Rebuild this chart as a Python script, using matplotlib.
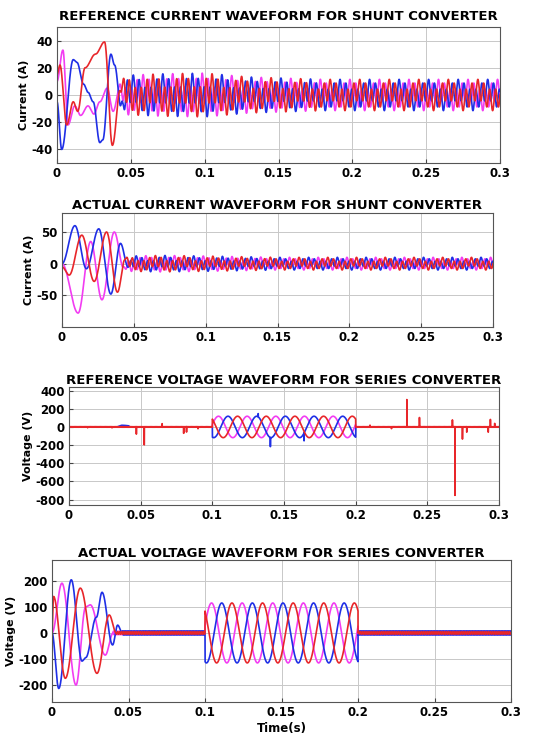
import numpy as np
import matplotlib
matplotlib.use("Agg")
import matplotlib.pyplot as plt

# ---------------- data ----------------
F_HZ = 50.0
T_END = 0.3
COL_RED = "#e8262a"
COL_BLUE = "#1f2fe6"
COL_MAG = "#f23cf2"

titles = ["REFERENCE CURRENT WAVEFORM FOR SHUNT CONVERTER",
          "ACTUAL CURRENT WAVEFORM FOR SHUNT CONVERTER",
          "REFERENCE VOLTAGE WAVEFORM FOR SERIES CONVERTER",
          "ACTUAL VOLTAGE WAVEFORM FOR SERIES CONVERTER"]
ylabels = ["Current (A)", "Current (A)", "Voltage (V)", "Voltage (V)"]
xticks = [0, 0.05, 0.1, 0.15, 0.2, 0.25, 0.3]
xtick_labels = ["0", "0.05", "0.1", "0.15", "0.2", "0.25", "0.3"]
yticks_list = [[-40, -20, 0, 20, 40], [-50, 0, 50],
               [-800, -600, -400, -200, 0, 200, 400], [-200, -100, 0, 100, 200]]
ylims = [(-50, 50), (-100, 80), (-860, 440), (-265, 280)]

# Panel 1: reference shunt current, start-up extrema (time s, value A)
p1_red_t = [0, 0.002, 0.0066, 0.011, 0.014, 0.019, 0.026, 0.0322, 0.0375, 0.043]
p1_red_v = [15, 22, -22, -5, -12, 20, 30, 39, -37, 5]
p1_mag_t = [0, 0.004, 0.0075, 0.012, 0.016, 0.021, 0.025, 0.029, 0.034, 0.038, 0.043]
p1_mag_v = [10, 33, -22, -8, -15, -8, -14, -5, 5, -12, 8]
p1_blue_t = [0, 0.0032, 0.011, 0.0135, 0.018, 0.021, 0.0245, 0.029, 0.031, 0.0365, 0.039, 0.0435]
p1_blue_v = [-5, -40, 26, 24, 8, 2, -5, -35, -33, 30, 22, -10]
p1_env_t = [0.044, 0.07, 0.1, 0.13, 0.18, 0.3]
p1_env_k = [1.25, 1.35, 1.4, 1.15, 1.0, 1.0]
p1_harm_order = [1, 5]
p1_harm_amp = [4.0, 7.5]

# Panel 2: actual shunt current
p2_blue_t = [0, 0.009, 0.017, 0.0256, 0.034, 0.0407, 0.046]
p2_blue_v = [0, 60, -8, 55, -48, 32, -5]
p2_red_t = [0, 0.005, 0.0138, 0.0224, 0.031, 0.0386, 0.044]
p2_red_v = [-5, -18, 45, -28, 50, -45, 8]
p2_mag_t = [0, 0.0112, 0.020, 0.0278, 0.0364, 0.043]
p2_mag_v = [0, -78, 35, -57, 50, -8]
p2_env_t = [0.045, 0.07, 0.1, 0.15, 0.3]
p2_env_k = [1.2, 1.3, 1.2, 1.0, 1.0]
p2_harm_order = [1, 5]
p2_harm_amp = [3.5, 6.5]

# Panel 3: reference series voltage
p3_sag_start = 0.1
p3_sag_end = 0.2
p3_amp = 118
p3_phase_deg = {"red": 43, "blue": 163, "mag": 283}
p3_red_spikes_t = [0.013, 0.03, 0.047, 0.0525, 0.065, 0.08, 0.082, 0.09, 0.21, 0.225,
                   0.2357, 0.2445, 0.2675, 0.2693, 0.2745, 0.2775, 0.2925, 0.294, 0.297]
p3_red_spikes_v = [-8, -10, -80, -200, 40, -70, -60, -20, 20, -15,
                   300, 100, 80, -750, -130, -60, -60, 80, 40]
p3_blue_spikes_t = [0.132, 0.1405, 0.164]
p3_blue_spikes_v = [35, -100, -85]
p3_blue_bump_t = [0.0, 0.033, 0.037, 0.041, 0.043]
p3_blue_bump_v = [0, 0, 18, 15, 0]
p3_ripple_amp = 4

# Panel 4: actual series voltage
p4_blue_t = [0, 0.0044, 0.0126, 0.0196, 0.022, 0.029, 0.0327, 0.0396, 0.0429, 0.046]
p4_blue_v = [0, -213, 204, -108, -95, 60, 156, -46, 30, 0]
p4_red_t = [0, 0.001, 0.0087, 0.0185, 0.0294, 0.0374, 0.042]
p4_red_v = [0, 140, -174, 172, -155, 69, 0]
p4_mag_t = [0, 0.0065, 0.0157, 0.022, 0.025, 0.0348, 0.04]
p4_mag_v = [0, 191, -200, 100, 108, -85, 0]
p4_amp = 115
p4_phase_deg = {"red": 43, "blue": 163, "mag": 283}
p4_ripple_amp = {"red": 5.0, "blue": 8.0, "mag": 6.5}
p4_ripple_hz = {"red": 730, "blue": 1010, "mag": 1270}

# axes boxes in pixels (left, top, right, bottom) of a 541x745 figure
boxes_px = [(57, 27, 500, 163), (62, 213, 493, 327), (69, 387, 499, 505), (52, 560, 511, 702)]
title_pads = [5, 3, 1, 1]

# ---------------- helpers ----------------
t = np.linspace(0, T_END, 30001)
W = 2 * np.pi * F_HZ


def extrema_curve(tt, tk, vk):
    tk = np.asarray(tk, float)
    vk = np.asarray(vk, float)
    idx = np.clip(np.searchsorted(tk, tt, side="right") - 1, 0, len(tk) - 2)
    t0, t1 = tk[idx], tk[idx + 1]
    v0, v1 = vk[idx], vk[idx + 1]
    s = np.clip((tt - t0) / (t1 - t0), 0, 1)
    out = v0 + (v1 - v0) * (1 - np.cos(np.pi * s)) / 2
    out[tt > tk[-1]] = vk[-1]
    return out


def harmonic_wave(tt, shift, orders, amps):
    th = W * tt + shift
    y = np.zeros_like(tt)
    for n, a in zip(orders, amps):
        y += a * np.sin(n * th)
    return y


def blend(tt, trans, steady, t_switch, width=0.004):
    w = np.clip((tt - t_switch) / width, 0, 1)
    return (1 - w) * trans + w * steady


def spikes(tt, ts, vs):
    y = np.zeros_like(tt)
    for a, b in zip(ts, vs):
        i = int(np.argmin(np.abs(tt - a)))
        y[i] = b
    return y


shifts = {"red": 0.0, "blue": -2 * np.pi / 3, "mag": 2 * np.pi / 3}
cols = {"red": COL_RED, "blue": COL_BLUE, "mag": COL_MAG}

# ---------------- build series ----------------
series = []
# panel 1
env1 = np.interp(t, p1_env_t, p1_env_k)
s1 = {}
for k, (tk, vk) in {"red": (p1_red_t, p1_red_v), "mag": (p1_mag_t, p1_mag_v),
                    "blue": (p1_blue_t, p1_blue_v)}.items():
    st = env1 * harmonic_wave(t, shifts[k], p1_harm_order, p1_harm_amp)
    s1[k] = blend(t, extrema_curve(t, tk, vk), st, tk[-1] - 0.001)
series.append(s1)
# panel 2
env2 = np.interp(t, p2_env_t, p2_env_k)
s2 = {}
for k, (tk, vk) in {"red": (p2_red_t, p2_red_v), "mag": (p2_mag_t, p2_mag_v),
                    "blue": (p2_blue_t, p2_blue_v)}.items():
    st = env2 * harmonic_wave(t, shifts[k], p2_harm_order, p2_harm_amp)
    s2[k] = blend(t, extrema_curve(t, tk, vk), st, tk[-1] - 0.001)
series.append(s2)
# panel 3
sag = (t >= p3_sag_start) & (t <= p3_sag_end)
s3 = {}
for k in ["mag", "blue", "red"]:
    y = np.where(sag, p3_amp * np.cos(W * (t - p3_sag_start) + np.deg2rad(p3_phase_deg[k])), 0.0)
    s3[k] = y
s3["red"] = s3["red"] + spikes(t, p3_red_spikes_t, p3_red_spikes_v) \
    + np.where(sag, 0, p3_ripple_amp * np.sin(2 * np.pi * 1150 * t))
s3["blue"] = s3["blue"] + spikes(t, p3_blue_spikes_t, p3_blue_spikes_v) \
    + extrema_curve(t, p3_blue_bump_t, p3_blue_bump_v)
series.append(s3)
# panel 4
sag4 = (t >= 0.1) & (t <= 0.2)
s4 = {}
for k, (tk, vk) in {"red": (p4_red_t, p4_red_v), "mag": (p4_mag_t, p4_mag_v),
                    "blue": (p4_blue_t, p4_blue_v)}.items():
    rip = p4_ripple_amp[k] * np.sin(2 * np.pi * p4_ripple_hz[k] * t + shifts[k])
    sine = p4_amp * np.cos(W * (t - 0.1) + np.deg2rad(p4_phase_deg[k]))
    y = np.where(sag4, sine, rip)
    y = np.where(t <= tk[-1], extrema_curve(t, tk, vk), y)
    s4[k] = y
series.append(s4)

# ---------------- draw ----------------
plt.rcParams["font.family"] = ["DejaVu Sans"]
plt.rcParams["font.weight"] = "bold"
FW, FH = 541, 745
fig = plt.figure(figsize=(FW / 100, FH / 100), dpi=100)

for i in range(4):
    l, tp, r, b = boxes_px[i]
    ax = fig.add_axes([l / FW, 1 - b / FH, (r - l) / FW, (b - tp) / FH])
    for k in ["mag", "blue", "red"]:
        ax.plot(t, series[i][k], color=cols[k], lw=1.2)
    ax.set_xlim(0, T_END)
    ax.set_ylim(*ylims[i])
    ax.set_xticks(xticks)
    ax.set_xticklabels(xtick_labels, fontsize=8.5, fontweight="bold")
    ax.set_yticks(yticks_list[i])
    ax.set_yticklabels([str(v) for v in yticks_list[i]], fontsize=8.5, fontweight="bold")
    ax.grid(True, color="#c8c8c8", lw=0.7)
    ax.set_axisbelow(True)
    ax.tick_params(direction="in", length=3, color="#444444", pad=3)
    for sp in ax.spines.values():
        sp.set_color("#555555")
        sp.set_linewidth(0.8)
    ax.set_title(titles[i], fontsize=9.5, fontweight="bold", pad=title_pads[i])
    ax.set_ylabel(ylabels[i], fontsize=8, fontweight="bold", labelpad=2)
    if i == 3:
        ax.set_xlabel("Time(s)", fontsize=8.5, fontweight="bold", labelpad=2)

fig.savefig("out.png", dpi=100, facecolor="white")
